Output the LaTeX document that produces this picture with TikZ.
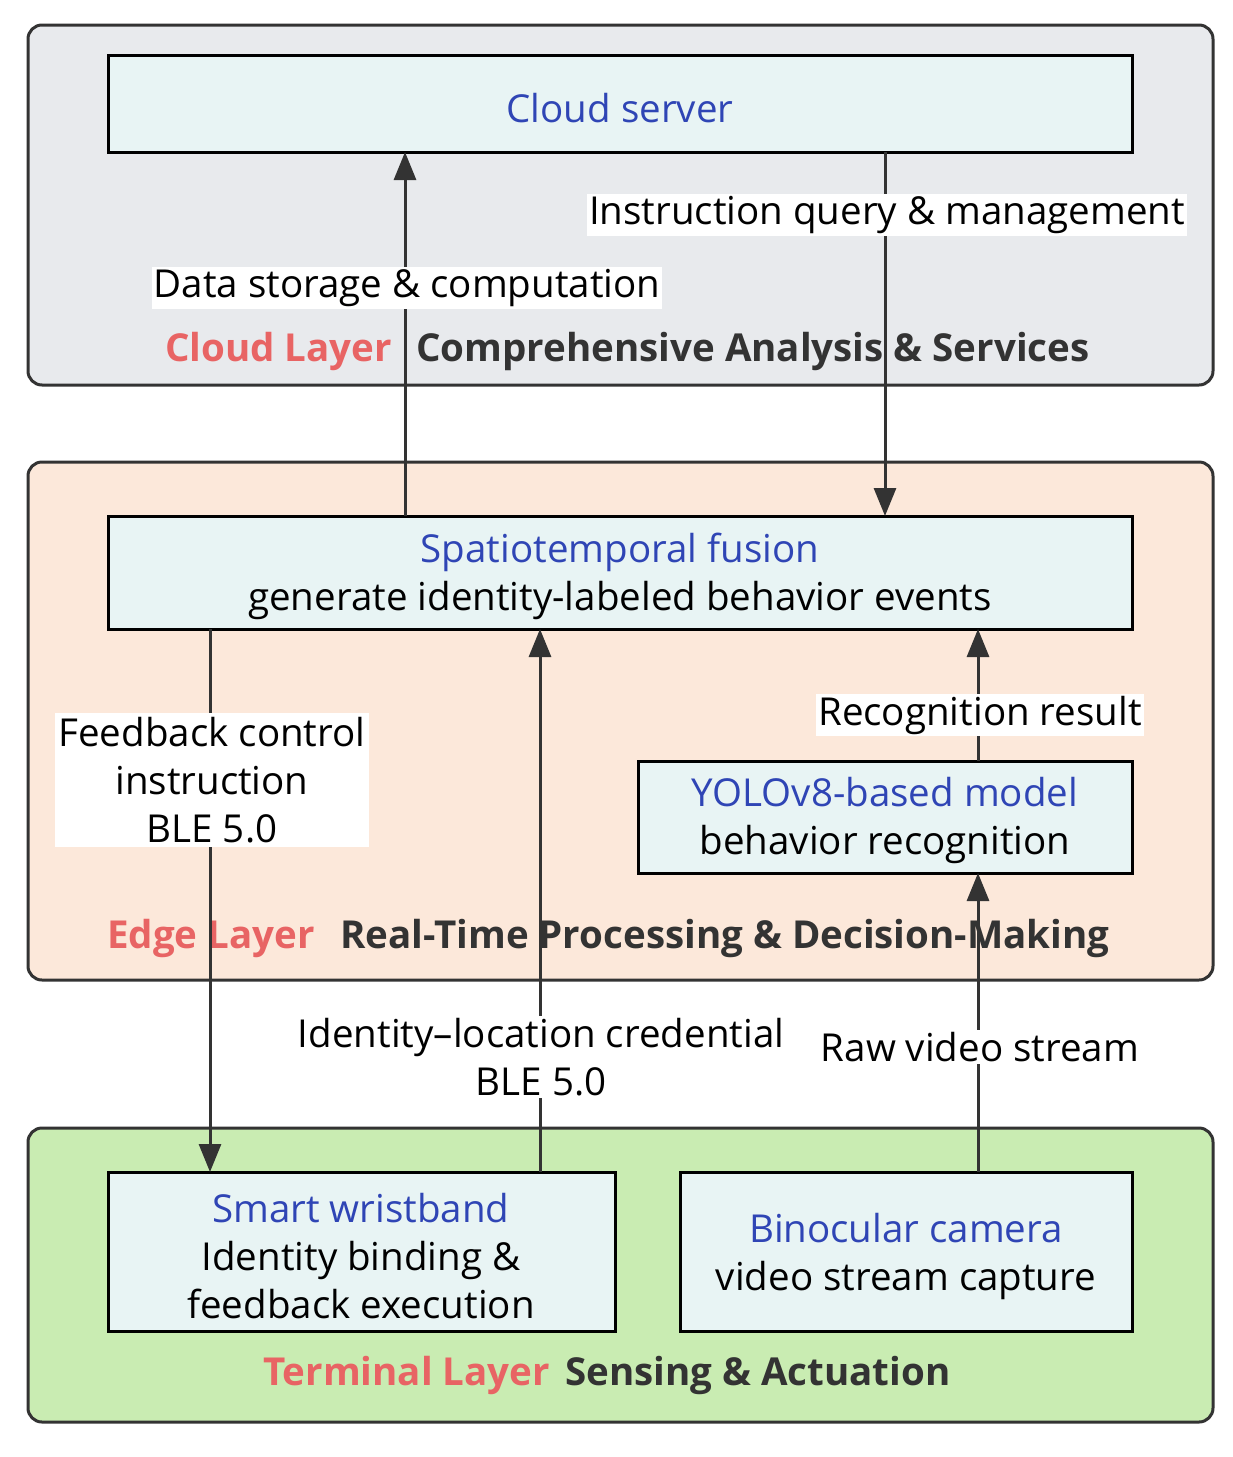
\documentclass[tikz,border=0pt]{standalone}
\usepackage{fontspec}
\setmainfont{Open Sans}
\usetikzlibrary{arrows.meta}
\definecolor{cloudbg}{HTML}{E8EAED}
\definecolor{edgebg}{HTML}{FCE8DA}
\definecolor{termbg}{HTML}{C9ECB2}
\definecolor{boxbg}{HTML}{E8F4F4}
\definecolor{bluet}{HTML}{2F45B5}
\definecolor{redt}{HTML}{E86464}
\definecolor{darkt}{HTML}{333333}
\definecolor{linec}{HTML}{333333}
\begin{document}
\begin{tikzpicture}[x=1pt,y=-1pt,
  layer/.style={draw=linec,line width=3pt,rounded corners=14pt},
  box/.style={draw=black,line width=3pt,fill=boxbg},
  txt/.style={font=\fontsize{38.5}{48}\selectfont,align=center,inner sep=2pt},
  lbl/.style={txt,fill=white},
  ttl/.style={font=\fontsize{38.5}{48}\selectfont\bfseries,inner sep=0pt},
  arr/.style={draw=linec,line width=3pt,-{Triangle[length=28pt,width=22pt]}}]
\useasboundingbox (0,0) rectangle (1233,1457);
\fill[white] (0,0) rectangle (1233,1457);
% layers
\draw[layer,fill=cloudbg] (28,25) rectangle (1213,385);
\draw[layer,fill=edgebg] (28,462) rectangle (1213,980);
\draw[layer,fill=termbg] (28,1128) rectangle (1213,1422);
% boxes
\draw[box] (108,55) rectangle (1132,152);
\node[txt,text=bluet] (cloud) at (620,108) {Cloud server};
\draw[box] (108,516) rectangle (1132,629);
\node[txt] (fus) at (620,576) {\textcolor{bluet}{Spatiotemporal fusion}\\generate identity-labeled behavior events};
\draw[box] (638,761) rectangle (1132,873);
\node[txt] (yolo) at (885,820) {\textcolor{bluet}{YOLOv8-based model}\\behavior recognition};
\draw[box] (108,1172) rectangle (615,1331);
\node[txt] (wrist) at (361,1256) {\textcolor{bluet}{Smart wristband}\\Identity binding \&\\feedback execution};
\draw[box] (680,1172) rectangle (1132,1331);
\node[txt] (cam) at (906,1256) {\textcolor{bluet}{Binocular camera}\\video stream capture};
% titles
\node[ttl,text=redt,anchor=west] at (165,351) {Cloud Layer};
\node[ttl,text=darkt,anchor=west] at (416,351) {Comprehensive Analysis \& Services};
\node[ttl,text=redt,anchor=west] at (107,938) {Edge Layer};
\node[ttl,text=darkt,anchor=west] at (340,938) {Real-Time Processing \& Decision-Making};
\node[ttl,text=redt,anchor=west] at (263,1375) {Terminal Layer};
\node[ttl,text=darkt,anchor=west] at (565,1375) {Sensing \& Actuation};
% connector end points
\coordinate (a1s) at (405,516); \coordinate (a1e) at (405,152);
\coordinate (a2s) at (885,152); \coordinate (a2e) at (885,516);
\coordinate (a3s) at (210,629); \coordinate (a3e) at (210,1172);
\coordinate (a4s) at (540,1172); \coordinate (a4e) at (540,629);
\coordinate (a5s) at (978,1172); \coordinate (a5e) at (978,873);
\coordinate (a6s) at (978,761); \coordinate (a6e) at (978,629);
\draw[arr] (a1s) -- (a1e);
\draw[arr] (a2s) -- (a2e);
\draw[arr] (a3s) -- (a3e);
\draw[arr] (a4s) -- (a4e);
\draw[arr] (a5s) -- (a5e);
\draw[arr] (a6s) -- (a6e);
% labels
\node[lbl] (l1) at (407,288) {Data storage \& computation};
\node[lbl] (l2) at (887,215) {Instruction query \& management};
\node[lbl,inner sep=4pt] (l3) at (212,780) {Feedback control\\instruction\\BLE 5.0};
\node[lbl] (l4) at (541,1057) {Identity--location credential\\BLE 5.0};
\node[lbl] (l5) at (980,1047) {Raw video stream};
\node[lbl] (l6) at (980,715) {Recognition result};
\end{tikzpicture}
\end{document}
